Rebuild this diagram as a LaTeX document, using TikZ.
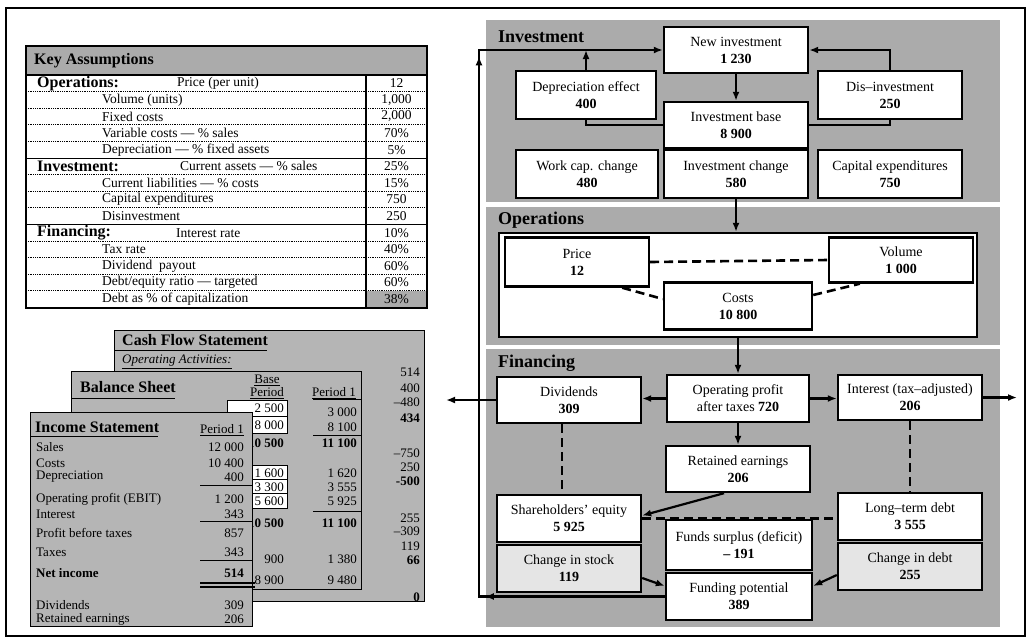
\documentclass[tikz,border=0pt]{standalone}
\usepackage{fontspec}
\setmainfont{Liberation Serif}
\usetikzlibrary{arrows.meta,decorations.markings}

\definecolor{panelgray}{gray}{0.67}
\definecolor{sheetgray}{gray}{0.71}
\definecolor{palecell}{gray}{0.90}

\begin{document}
\begin{tikzpicture}[
  x=1pt, y=-1pt,
  box/.style={draw, line width=2.4pt, fill=white, align=center, inner sep=1pt,
    font=\fontsize{14}{17}\selectfont, minimum width=144pt, minimum height=46pt},
  paleb/.style={box, fill=palecell},
  flow/.style={-{Latex[length=9pt,width=7pt]}, line width=2.2pt},
  link/.style={line width=2.2pt},
  tie/.style={line width=2.6pt, dash pattern=on 9pt off 5pt},
  paneltitle/.style={font=\fontsize{18}{18}\selectfont\bfseries, anchor=west, inner sep=0pt},
  sheettitle/.style={font=\fontsize{16}{16}\selectfont\bfseries, anchor=west, inner sep=0pt},
  cell/.style={font=\fontsize{13.5}{13.5}\selectfont, inner sep=0pt},
  stmt/.style={font=\fontsize{13}{13}\selectfont, inner sep=0pt},
  sheet/.style={fill=sheetgray, draw, line width=1pt},
  loopmarks/.style={postaction={decorate}, decoration={markings,
    mark=at position 180pt with {\arrow{Latex[length=9pt,width=7pt]}},
    mark=at position 726pt with {\arrow{Latex[length=9pt,width=7pt]}}}}
]
\useasboundingbox (0,0) rectangle (1030,641);
\draw[line width=2pt] (6,8) rectangle (1025,636);

% key assumptions
\fill[panelgray] (26,46) rectangle (427,75);
\fill[panelgray] (366,290.8) rectangle (427,308);
\foreach \r in {1,2,3,4,6,7,8,10,11,12,13}
  \draw[densely dotted, line width=0.8pt] (26,{75+16.6*\r}) -- (427,{75+16.6*\r});
\foreach \r in {5,9}
  \draw[line width=1pt] (26,{75+16.6*\r}) -- (427,{75+16.6*\r});
\draw[line width=1.2pt] (26,75) -- (427,75) (366,75) -- (366,308);
\draw[line width=1.4pt] (26,46) rectangle (427,308);
\node[sheettitle] (katitle) at (34,61) {Key Assumptions};
\node[sheettitle] (kaops) at (37,83.3) {Operations:};
\node[cell, anchor=west] (kaprice) at (177,83.3) {Price (per unit)};
\node[sheettitle] (kainv) at (37,166.3) {Investment:};
\node[cell, anchor=west] (kacur) at (180,166.3) {Current assets — \% sales};
\node[sheettitle] (kafin) at (37,232.7) {Financing:};
\node[cell, anchor=west] (kaint) at (176,232.7) {Interest rate};
\foreach \i/\lbl in {1/Volume (units), 2/Fixed costs, 3/Variable costs — \% sales,
    4/Depreciation — \% fixed assets, 6/Current liabilities — \% costs,
    7/Capital expenditures, 8/Disinvestment, 10/Tax rate, 11/Dividend\ \ payout,
    12/{Debt/equity ratio — targeted}, 13/Debt as \% of capitalization}
  \node[cell, anchor=west] (kal\i) at (102,{83.3+16.6*\i}) {\lbl};
\foreach \i/\v in {0/12, 1/{1,000}, 2/{2,000}, 3/70\%, 4/5\%, 5/25\%, 6/15\%,
    7/750, 8/250, 9/10\%, 10/40\%, 11/60\%, 12/60\%, 13/38\%}
  \node[cell] (kav\i) at (396.5,{83.3+16.6*\i}) {\v};

% stacked statements
\draw[sheet] (114,330) rectangle (424,601);
\node[sheettitle] (cftitle) at (122,340) {Cash Flow Statement};
\draw[line width=1pt] (114,350) -- (267,350);
\node[stmt, anchor=west] (cfop) at (122,362) {\underline{\textit{Operating Activities:}}};
\foreach \y/\v [count=\k] in {372/514, 388/400, 402/–480, 418/\textbf{434}, 453/–750,
    467/250, 481/\textbf{-500}, 518/255, 531/–309, 546/119, 560/\textbf{66}, 597/\textbf{0}}
  \node[stmt, anchor=east] (cf\k) at (420,\y) {\v};

\draw[sheet] (71,371) rectangle (361,589);
\node[sheettitle] (bstitle) at (80,387) {Balance Sheet};
\draw[line width=1pt] (71,398) -- (175,398);
\node[stmt] (bsbase) at (267,380) {\underline{Base}};
\node[stmt] (bsbper) at (267,393) {\underline{Period}};
\node[stmt] (bsper) at (334,393) {\underline{Period 1}};
\draw[line width=1pt] (313,399) -- (361,399) (313,435) -- (361,435) (313,511) -- (361,511);
\filldraw[fill=white, line width=0.8pt] (227,400) rectangle (287,433) (227,416.5) -- (287,416.5);
\filldraw[fill=white, line width=0.8pt] (227,465) rectangle (287,508)
  (227,479.3) -- (287,479.3) (227,493.7) -- (287,493.7);
\foreach \y/\v [count=\k] in {408/2 500, 425/8 000, 443/\textbf{10 500}, 473/1 600,
    487/3 300, 501/5 600, 523/\textbf{10 500}, 559/900, 580/8 900}
  \node[stmt, anchor=east] (bsb\k) at (284,\y) {\v};
\foreach \y/\v [count=\k] in {412/3 000, 427/8 100, 443/\textbf{11 100}, 473/1 620,
    487/3 555, 501/5 925, 523/\textbf{11 100}, 559/1 380, 580/9 480}
  \node[stmt, anchor=east] (bsp\k) at (357,\y) {\v};

\draw[sheet] (30,412) rectangle (252,626);
\node[sheettitle] (istitle) at (35,427) {Income Statement};
\draw[line width=1pt] (30,436) -- (158,436);
\node[stmt] (isper) at (222,430) {\underline{Period 1}};
\foreach \y/\lbl/\v [count=\k] in {447/Sales/12 000, 463/Costs/10 400, 477/Depreciation/400,
    499/Operating profit (EBIT)/1 200, 514/Interest/343, 533/Profit before taxes/857,
    552/Taxes/343, 573/\textbf{Net income}/\textbf{514}, 605/Dividends/309,
    619/Retained earnings/206}
  {\node[stmt, anchor=west] (isl\k) at (36,\y) {\lbl};
   \node[stmt, anchor=east] (isv\k) at (244,\y) {\v};}
\draw[line width=1pt] (200,485) -- (252,485) (200,521) -- (252,521) (200,560) -- (252,560);
\draw[line width=1.3pt] (200,583) -- (255,583) (200,587) -- (255,587);

% planning model panels
\fill[panelgray] (486,20) rectangle (1000,202);
\fill[panelgray] (486,207) rectangle (1000,345);
\fill[panelgray] (486,349) rectangle (1000,627);
\node[paneltitle] (invtitle) at (498,37) {Investment};
\node[paneltitle] (opstitle) at (498,220) {Operations};
\node[paneltitle] (fintitle) at (498,363) {Financing};

\node[box] (newinv) at (736,50) {New investment\\\textbf{1 230}};
\node[box, minimum width=140pt, minimum height=48pt] (dep) at (586,95) {Depreciation effect\\\textbf{400}};
\node[box, minimum height=48pt] (dis) at (890,95) {Dis–investment\\\textbf{250}};
\node[box] (invbase) at (736,125) {Investment base\\\textbf{8 900}};
\node[box, minimum width=142pt, minimum height=48pt] (wcap) at (587,174) {Work cap. change\\\textbf{480}};
\node[box, minimum height=48pt] (invchg) at (736,174) {Investment change\\\textbf{580}};
\node[box, minimum height=48pt] (capex) at (890,174) {Capital expenditures\\\textbf{750}};

\node[draw, line width=2.4pt, fill=white, minimum width=478pt, minimum height=104pt] (opsbox) at (738,285) {};
\node[box, minimum height=49pt] (price) at (577,262) {Price\\\textbf{12}};
\node[box, minimum height=45pt] (vol) at (901,260) {Volume\\\textbf{1 000}};
\node[box, minimum width=148pt, minimum height=47pt] (costs) at (738,306) {Costs\\\textbf{10 800}};

\node[box] (div) at (569,400) {Dividends\\\textbf{309}};
\node[box, minimum width=142pt, minimum height=47pt] (op) at (738,398.5) {Operating profit\\after taxes \textbf{720}};
\node[box, minimum height=45pt] (intr) at (910,397.5) {Interest (tax–adjusted)\\\textbf{206}};
\node[box] (ret) at (738,469) {Retained earnings\\\textbf{206}};
\node[box, minimum height=47pt] (sheq) at (569,518.5) {Shareholders' equity\\\textbf{5 925}};
\node[paleb, minimum height=47pt] (stock) at (569,568.5) {Change in stock\\\textbf{119}};
\node[box, minimum width=146pt, minimum height=50pt] (surplus) at (739,545) {Funds surplus (deficit)\\\textbf{– 191}};
\node[box, minimum width=146pt, minimum height=47pt] (fund) at (739,596.5) {Funding potential\\\textbf{389}};
\node[box, minimum height=47pt] (ltd) at (910,516.5) {Long–term debt\\\textbf{3 555}};
\node[paleb, minimum height=47pt] (cdebt) at (910,566.5) {Change in debt\\\textbf{255}};

\coordinate (looptop) at (479,50);
\coordinate (loopbot) at (479,596.5);
\coordinate (divout) at (446,400);
\coordinate (introut) at (1017,397.5);

\draw[flow, loopmarks] (fund.west) -- (loopbot) -- (looptop) -- (newinv.west);
\draw[flow] (dep.north) -- (dep.north |- looptop);
\draw[flow] (dis.north) |- (newinv.east);
\draw[flow] (newinv) -- (invbase);
\draw[link] (dep.south) |- (invbase.west);
\draw[link] (dis.south) |- (invbase.east);
\draw[flow] (invchg.south) -- (invchg.south |- opsbox.north);

\draw[tie] (price.east) -- (vol.west);
\draw[tie] ([xshift=-28pt]price.south east) -- ([yshift=7pt]costs.west);
\draw[tie] ([yshift=11pt]costs.east) -- ([xshift=32pt]vol.south west);

\draw[flow] (op.north |- opsbox.south) -- (op.north);
\draw[flow] (op.west) -- (op.west -| div.east);
\draw[flow] (op.east) -- (op.east -| intr.west);
\draw[flow] (div.west) -- (divout);
\draw[flow] (intr.east) -- (introut);
\draw[flow] (op) -- (ret);
\draw[flow] ([xshift=-14pt]ret.south) -- ([yshift=3pt]sheq.east);
\draw[tie] ([xshift=-7pt]div.south) -- ([xshift=-7pt]sheq.north);
\draw[tie] (intr.south) -- (ltd.north);
\draw[tie] (sheq.east) -- (sheq.east -| ltd.west);
\draw[flow] ([yshift=-9.5pt]stock.east) -- ([yshift=10.5pt]fund.west);
\draw[flow] ([yshift=-8.5pt]cdebt.west) -- ([yshift=10.5pt]fund.east);

\end{tikzpicture}
\end{document}
